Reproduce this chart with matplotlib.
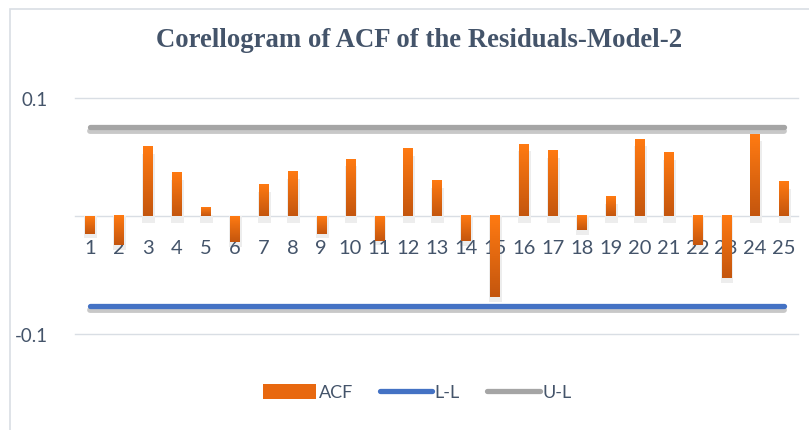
import numpy as np
import matplotlib.pyplot as plt
from matplotlib.colors import LinearSegmentedColormap
from matplotlib.patches import Rectangle, Patch
from matplotlib.lines import Line2D

# dados
lags = list(range(1, 26))
acf = [-0.0149, -0.0247, 0.0585, 0.0365, 0.0070, -0.0219, 0.0264, 0.0374,
       -0.0149, 0.0483, -0.0208, 0.0568, 0.0298, -0.0216, -0.0689, 0.0610,
       0.0551, -0.0121, 0.0163, 0.0652, 0.0534, -0.0247, -0.0528, 0.0694,
       0.0289]
lim_inf = [-0.0760] * 25
lim_sup = [0.0758] * 25
y_ticks = [-0.1, 0, 0.1]
y_labels = ['-0.1', '', '0.1']

texto = '#44546A'
fig = plt.figure(figsize=(8.09, 4.31), dpi=100)
ax = fig.add_axes([0.0933, 0.2227, 0.8937, 0.5476])

# borda do gráfico
fig.patches.append(Rectangle((10 / 809, -0.1), 1.2, 1.1 - 10 / 431,
                             transform=fig.transFigure, fill=False,
                             edgecolor='#D9DEE4', lw=1.2))

for y in y_ticks:
    ax.axhline(y, color='#D9DEE4', lw=1, zorder=0, clip_on=False)

# barras com sombra e gradiente
cmap = LinearSegmentedColormap.from_list('lar', ['#C4560E', '#FF7A12'])
grad = np.linspace(0, 1, 64).reshape(-1, 1)
w = 0.32
for x, v in zip(lags, acf):
    ax.bar(x + 0.03, v - 0.004 if v < 0 else v, bottom=-0.006 if v > 0 else 0,
           width=w + 0.12, color='#EDEDED', zorder=1, lw=0)
    lo, hi = min(0, v), max(0, v)
    ax.imshow(grad, cmap=cmap, aspect='auto', origin='lower',
              extent=(x - w / 2, x + w / 2, lo, hi), zorder=3)
ax.set_xlim(0.5, 25.5)
ax.set_ylim(-0.1, 0.1)

# limites com sombra
off = -0.0035
ax.plot(lags, np.array(lim_sup) + off, color='#C8C8C8', lw=4.2,
        solid_capstyle='round', zorder=2)
ax.plot(lags, lim_sup, color='#A5A5A5', lw=3.8, solid_capstyle='round', zorder=3)
ax.plot(lags, np.array(lim_inf) + off, color='#C8C8C8', lw=4.2,
        solid_capstyle='round', zorder=2)
ax.plot(lags, lim_inf, color='#4472C4', lw=3.8, solid_capstyle='round', zorder=3)

# rótulos das categorias (atrás das barras)
for x in lags:
    ax.text(x, -0.0195, str(x), ha='center', va='top', fontsize=14.5,
            family='Lato', color=texto, zorder=2.5)

ax.set_yticks(y_ticks)
ax.set_yticklabels(y_labels, family='Lato', fontsize=13.5, color=texto)
ax.set_xticks([])
ax.tick_params(axis='y', length=0, pad=20)
for s in ax.spines.values():
    s.set_visible(False)

fig.text(0.518, 0.905, 'Corellogram of ACF of the Residuals-Model-2',
         ha='center', va='center', family='Liberation Serif',
         fontweight='bold', fontsize=19.3, color=texto)

# legenda
handles = [Patch(facecolor='#E8680F', label='ACF'),
           Line2D([], [], color='#4472C4', lw=3.8, solid_capstyle='round', label='L-L'),
           Line2D([], [], color='#A5A5A5', lw=3.8, solid_capstyle='round', label='U-L')]
fig.legend(handles=handles, loc='center', bbox_to_anchor=(0.516, 0.088), ncol=3,
           frameon=False, prop={'family': 'Lato', 'size': 13},
           labelcolor=texto, handlelength=2.9, handletextpad=0.15,
           columnspacing=1.5, handleheight=0.9)

fig.savefig('out.png', dpi=100)
